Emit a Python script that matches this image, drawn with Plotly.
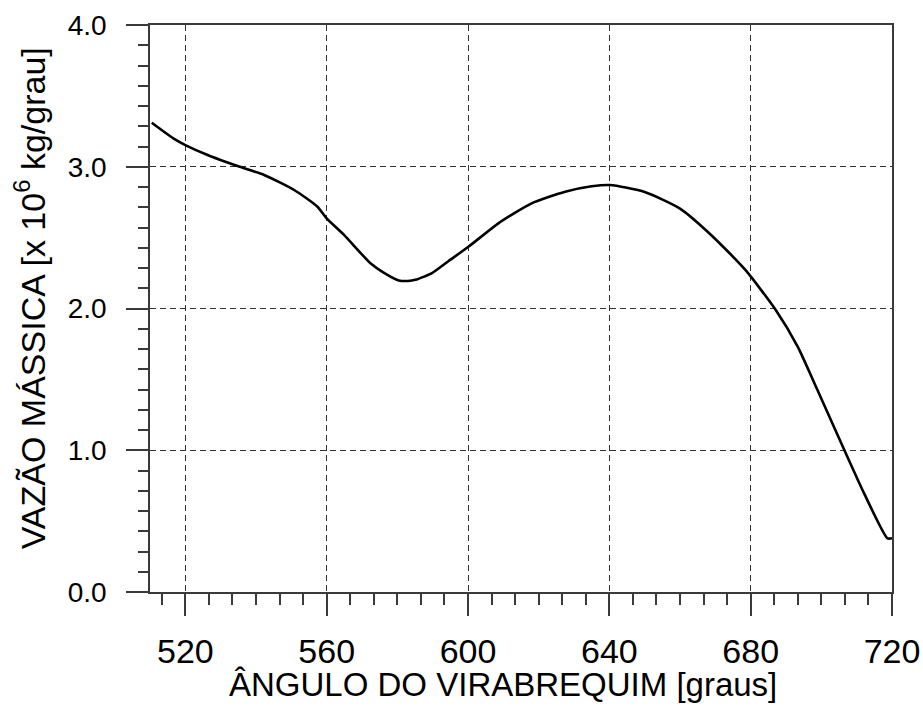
import plotly.graph_objects as go

# Data
angle = [510.5, 516.6, 520.0, 526.3, 534.8, 542.3, 550.8, 557.4, 560.0, 564.9,
         572.4, 576.0, 580.4, 583.0, 585.1, 589.8, 594.5, 600.4, 608.6, 618.0,
         627.5, 635.0, 640.2, 650.0, 660.0, 668.8, 678.5, 687.1, 693.3, 698.9,
         706.5, 712.1, 718.7, 720.0]
flow = [3.31, 3.20, 3.153, 3.083, 3.005, 2.942, 2.836, 2.718, 2.636, 2.519,
        2.319, 2.255, 2.198, 2.194, 2.202, 2.250, 2.335, 2.441, 2.601, 2.742,
        2.824, 2.862, 2.871, 2.822, 2.705, 2.519, 2.272, 1.989, 1.731, 1.425,
        1.002, 0.696, 0.379, 0.379]

x_ticks = [520, 560, 600, 640, 680, 720]
y_ticks = [0.0, 1.0, 2.0, 3.0, 4.0]
x_title = "ÂNGULO DO VIRABREQUIM [graus]"
y_title = "VAZÃO MÁSSICA [x 10<sup>6</sup> kg/grau]"

FONT = "Arial, 'Liberation Sans', sans-serif"
AX = "#3a3a3a"

fig = go.Figure()
fig.add_trace(go.Scatter(x=angle, y=flow, mode="lines",
                         line=dict(color="black", width=2.6, shape="spline", smoothing=0.6),
                         showlegend=False, hoverinfo="skip"))

fig.update_layout(
    width=923, height=709,
    margin=dict(l=150, r=31, t=25, b=117, autoexpand=False),
    paper_bgcolor="white", plot_bgcolor="white",
    font=dict(family=FONT, color="black"),
)

fig.update_xaxes(
    range=[510, 720], tickvals=x_ticks, ticktext=[str(v) for v in x_ticks],
    ticks="outside", ticklen=22, tickwidth=1.5, tickcolor=AX,
    showline=True, linecolor=AX, linewidth=1.5, mirror=True,
    showgrid=True, gridcolor="#333333", gridwidth=1, griddash="6px,4px",
    zeroline=False, automargin=False,
    tickfont=dict(size=34, family=FONT, color="black"),
    ticklabelstandoff=6,
    minor=dict(tick0=520, dtick=40/6, ticks="outside", ticklen=11,
               tickwidth=1.5, tickcolor=AX, showgrid=False),
)
fig.update_yaxes(
    range=[0, 4], tickvals=y_ticks, ticktext=["%.1f" % v for v in y_ticks],
    ticks="outside", ticklen=22, tickwidth=1.5, tickcolor=AX,
    showline=True, linecolor=AX, linewidth=1.5, mirror=True,
    showgrid=True, gridcolor="#333333", gridwidth=1, griddash="6px,4px",
    zeroline=False, automargin=False,
    tickfont=dict(size=28, family=FONT, color="black"),
    ticklabelstandoff=14,
    minor=dict(tick0=0, dtick=1/7, ticks="outside", ticklen=10,
               tickwidth=1.5, tickcolor=AX, showgrid=False),
)

fig.add_annotation(text=x_title, xref="paper", yref="paper",
                   x=0.4757, y=-0.163, xanchor="center", yanchor="middle",
                   showarrow=False, font=dict(size=33, family=FONT, color="black"))
fig.add_annotation(text=y_title, xref="paper", yref="paper",
                   x=-0.162, y=0.5176, xanchor="center", yanchor="middle",
                   textangle=-90, showarrow=False,
                   font=dict(size=34, family=FONT, color="black"))

fig.write_html("out.html")
